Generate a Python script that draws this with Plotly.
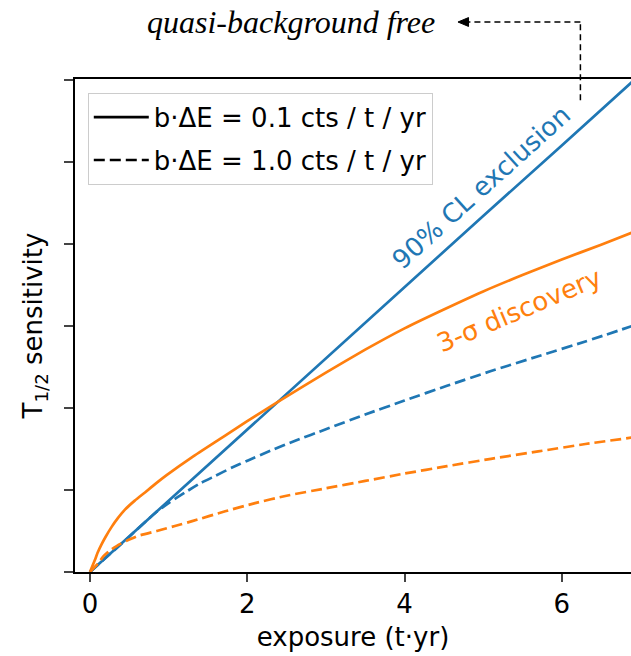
import plotly.graph_objects as go

# exposure (t*yr) and T1/2 sensitivity (arbitrary units)
x_excl_low = [0, 1, 2, 3, 4, 5, 6, 6.9]
y_excl_low = [0, 0.87, 1.73, 2.6, 3.47, 4.34, 5.2, 5.98]

x_disc_low = [0, 0.03, 0.064, 0.1, 0.149, 0.2, 0.276, 0.35, 0.445, 0.57, 0.7, 0.84, 0.975,
              1.3, 1.7, 2.0, 2.4, 3.0, 3.5, 4.0, 4.5, 5.0, 5.5, 6.0, 6.5, 6.9]
y_disc_low = [0, 0.07, 0.15, 0.24, 0.34, 0.43, 0.55, 0.65, 0.76, 0.87, 0.97, 1.08, 1.18,
              1.4, 1.65, 1.84, 2.08, 2.43, 2.71, 2.97, 3.2, 3.42, 3.62, 3.81, 3.99, 4.14]

x_excl_high = [0, 0.5, 0.83, 1.0, 1.21, 1.4, 1.59, 1.8, 2.01, 2.3, 2.61, 3.0, 3.5, 4.0,
               4.54, 5.1, 5.7, 6.3, 6.9]
y_excl_high = [0, 0.43, 0.72, 0.84, 0.97, 1.08, 1.17, 1.27, 1.36, 1.48, 1.6, 1.74, 1.92, 2.09,
               2.27, 2.45, 2.63, 2.81, 3.0]

x_disc_high = [0, 0.1, 0.17, 0.25, 0.38, 0.5, 0.61, 0.85, 1.08, 1.3, 1.72, 2.1, 2.5, 3.0, 3.5,
               4.0, 4.54, 5.1, 5.7, 6.3, 6.9]
y_disc_high = [0, 0.1, 0.19, 0.26, 0.34, 0.395, 0.44, 0.5, 0.56, 0.62, 0.74, 0.84, 0.93, 1.02,
               1.11, 1.2, 1.29, 1.38, 1.47, 1.56, 1.64]

x_ticks = [0, 2, 4, 6]
y_ticks = [0, 1, 2, 3, 4, 5, 6]

legend_labels = ["b·ΔE = 0.1 cts / t / yr", "b·ΔE = 1.0 cts / t / yr"]

BLUE = "#1f77b4"
ORANGE = "#ff7f0e"
FONT = "DejaVu Sans"
FS = 26
LW = 2.7
DASH = "11px,5px"
SM = 0.5

fig = go.Figure()
fig.add_trace(go.Scatter(x=x_excl_low, y=y_excl_low, mode="lines",
                         line=dict(color=BLUE, width=LW), showlegend=False))
fig.add_trace(go.Scatter(x=x_disc_low, y=y_disc_low, mode="lines", line_shape="spline",
                         line=dict(color=ORANGE, width=LW, smoothing=SM), showlegend=False))
fig.add_trace(go.Scatter(x=x_excl_high, y=y_excl_high, mode="lines", line_shape="spline",
                         line=dict(color=BLUE, width=LW, dash=DASH, smoothing=SM), showlegend=False))
fig.add_trace(go.Scatter(x=x_disc_high, y=y_disc_high, mode="lines", line_shape="spline",
                         line=dict(color=ORANGE, width=LW, dash=DASH, smoothing=SM), showlegend=False))
# legend entries (black samples)
fig.add_trace(go.Scatter(x=[None], y=[None], mode="lines", name=legend_labels[0],
                         legendgroup="a", line=dict(color="black", width=LW)))
fig.add_trace(go.Scatter(x=[None], y=[None], mode="lines", name=legend_labels[1],
                         legendgroup="b", line=dict(color="black", width=LW, dash=DASH)))

fig.add_annotation(x=4.98, y=4.69, text="90% CL exclusion", showarrow=False,
                   textangle=-42, font=dict(family=FONT, size=FS, color=BLUE))
fig.add_annotation(x=5.46, y=3.2, text="3-σ discovery", showarrow=False,
                   textangle=-23, font=dict(family=FONT, size=FS, color=ORANGE))

# quasi-background free label with dashed arrow
fig.add_annotation(xref="paper", yref="paper", x=0.3885, y=1.1156,
                   xanchor="center", yanchor="middle",
                   text="<i>quasi-background free</i>", showarrow=False,
                   font=dict(family="Liberation Serif", size=32, color="black"))
fig.add_shape(type="line", xref="paper", yref="paper", x0=0.909, y0=0.957, x1=0.909, y1=1.1156,
              line=dict(color="black", width=1.5, dash="6px,4px"))
fig.add_shape(type="line", xref="paper", yref="paper", x0=0.909, y0=1.1156, x1=0.705, y1=1.1156,
              line=dict(color="black", width=1.5, dash="6px,4px"))
fig.add_shape(type="path", xref="paper", yref="paper",
              path="M 0.6888 1.1156 L 0.7078 1.1246 L 0.7078 1.1066 Z",
              fillcolor="black", line=dict(color="black", width=1))

fig.update_layout(
    width=631, height=656,
    margin=dict(l=75, r=0, t=79, b=84),
    paper_bgcolor="white", plot_bgcolor="white",
    font=dict(family=FONT, size=FS, color="black"),
    legend=dict(x=0.023, y=0.972, xanchor="left", yanchor="top",
                bgcolor="rgba(255,255,255,0.8)", bordercolor="#cccccc", borderwidth=1,
                font=dict(family=FONT, size=FS), tracegroupgap=6, itemwidth=55),
    showlegend=True,
)
fig.update_xaxes(range=[-0.19, 6.88], tickvals=x_ticks, ticks="outside", ticklen=8, tickwidth=1.5,
                 showline=True, linecolor="black", linewidth=1.5, mirror=True, showgrid=False,
                 zeroline=False, title=dict(text="exposure (t·yr)", font=dict(size=FS), standoff=10),
                 tickfont=dict(size=FS))
fig.update_yaxes(range=[0, 6.01], tickvals=y_ticks, showticklabels=False, ticks="outside",
                 ticklen=9, tickwidth=1.5, showline=True, linecolor="black", linewidth=1.5,
                 showgrid=False, zeroline=False,
                 title=dict(text="T<sub>1/2</sub> sensitivity", font=dict(size=FS), standoff=14))

fig.write_html("out.html")
